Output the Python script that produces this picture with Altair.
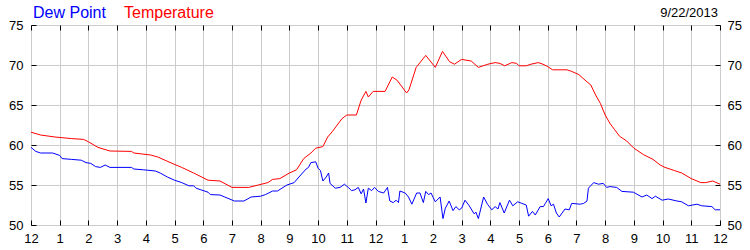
import altair as alt
import pandas as pd

# (minutes since midnight, degrees F)
TEMPERATURE = [
    (0, 61.6), (20, 61.25), (50, 61.0), (85, 60.8), (110, 60.7), (120, 60.4), (140, 59.7),
    (165, 59.25), (210, 59.2), (215, 59.0), (250, 58.75), (265, 58.5), (295, 57.7), (315, 57.2),
    (340, 56.5), (370, 55.6), (395, 55.5), (420, 54.7), (455, 54.7), (475, 55.0), (495, 55.3),
    (505, 55.7), (520, 55.8), (540, 56.5), (555, 56.9), (570, 58.3), (585, 59.0), (595, 59.6),
    (610, 59.8), (620, 61.0), (630, 61.7), (650, 63.3), (660, 63.75), (680, 63.75), (690, 65.6),
    (700, 66.7), (705, 66.0), (715, 66.7), (740, 66.7), (755, 68.5), (765, 68.1), (785, 66.5),
    (790, 66.9), (805, 69.7), (825, 71.2), (845, 69.7), (860, 71.7), (875, 70.4), (885, 70.1),
    (900, 70.7), (920, 70.5), (935, 69.7), (955, 70.1), (970, 70.3), (980, 70.2), (990, 69.9),
    (1005, 70.3), (1015, 70.2), (1020, 69.9), (1035, 69.9), (1045, 70.1), (1060, 70.3),
    (1070, 70.1), (1080, 69.8), (1090, 69.4), (1120, 69.4), (1130, 69.2), (1145, 68.8),
    (1160, 68.0), (1170, 67.5), (1180, 66.25), (1190, 65.2), (1200, 63.75), (1210, 62.7),
    (1220, 61.9), (1230, 61.1), (1245, 60.5), (1260, 59.6), (1280, 58.8), (1300, 58.2),
    (1315, 57.5), (1325, 57.2), (1345, 56.8), (1360, 56.5), (1380, 55.8), (1400, 55.3),
    (1410, 55.3), (1425, 55.5), (1440, 55.1),
]

DEW_POINT = [
    (0, 59.7), (10, 59.2), (20, 59.0), (45, 59.0), (60, 58.7), (65, 58.3), (85, 58.2),
    (105, 58.1), (115, 57.8), (125, 57.7), (135, 57.3), (145, 57.2), (155, 57.5), (165, 57.2),
    (210, 57.2), (215, 57.0), (235, 56.9), (260, 56.75), (270, 56.5), (285, 56.0), (300, 55.6),
    (315, 55.3), (330, 54.9), (340, 54.9), (345, 54.6), (355, 54.4), (370, 54.1), (375, 53.8),
    (395, 53.75), (405, 53.5), (425, 53.0), (445, 53.0), (460, 53.5), (480, 53.6), (490, 53.8),
    (505, 54.25), (515, 54.25), (535, 55.0), (550, 55.3), (560, 56.0), (575, 57.0), (580, 57.2),
    (585, 57.8), (595, 57.9), (600, 57.1), (605, 56.8), (610, 55.5), (617, 56.0), (622, 56.5),
    (625, 55.2), (636, 54.6), (646, 54.7), (655, 55.1), (663, 54.7), (670, 54.3), (677, 54.4),
    (684, 54.7), (690, 53.9), (695, 54.5), (700, 52.75), (705, 54.6), (712, 54.3), (718, 54.7),
    (726, 54.2), (737, 54.0), (745, 54.7), (750, 53.0), (757, 52.8), (763, 53.1), (768, 52.8),
    (771, 54.25), (782, 54.0), (789, 53.5), (796, 52.6), (806, 54.0), (813, 54.0), (820, 52.8),
    (825, 54.2), (831, 53.8), (836, 54.0), (845, 52.9), (855, 53.5), (861, 50.8), (866, 52.1),
    (874, 53.0), (882, 51.8), (888, 52.3), (895, 51.9), (900, 52.1), (907, 53.1), (916, 52.4),
    (926, 51.4), (930, 51.6), (935, 50.8), (946, 53.5), (954, 52.6), (963, 51.9), (970, 52.3),
    (976, 52.0), (980, 52.8), (989, 51.5), (1000, 53.1), (1007, 52.4), (1017, 52.9),
    (1026, 52.7), (1035, 52.5), (1040, 51.1), (1048, 51.7), (1054, 51.25), (1064, 52.3),
    (1071, 52.3), (1075, 52.7), (1081, 53.3), (1087, 52.4), (1092, 52.6), (1098, 51.5),
    (1104, 51.0), (1116, 52.0), (1125, 51.9), (1130, 52.7), (1148, 52.6), (1155, 52.7),
    (1162, 53.0), (1165, 54.6), (1176, 55.3), (1186, 55.1), (1196, 55.2), (1203, 54.7),
    (1210, 54.8), (1224, 54.7), (1235, 54.2), (1259, 54.1), (1277, 53.5), (1287, 53.75),
    (1298, 53.3), (1305, 53.6), (1319, 53.1), (1332, 53.25), (1350, 53.0), (1360, 52.9),
    (1374, 52.4), (1392, 52.6), (1402, 52.4), (1423, 52.3), (1430, 51.9), (1440, 51.9),
]

X_TICKS = list(range(0, 1441, 60))
Y_TICKS = [50, 55, 60, 65, 70, 75]
TITLE_DEW = "Dew Point"
TITLE_TEMP = "Temperature"
DATE_TEXT = "9/22/2013"

FONT = "Liberation Sans"

temp_df = pd.DataFrame(TEMPERATURE, columns=["minute", "value"])
dew_df = pd.DataFrame(DEW_POINT, columns=["minute", "value"])

xs = alt.Scale(domain=[0, 1440], nice=False, zero=False)
ys = alt.Scale(domain=[50, 75], nice=False, zero=False)

label_expr = "((datum.value / 60) % 12) == 0 ? '12' : '' + ((datum.value / 60) % 12)"

common = dict(
    domain=False, ticks=True, tickSize=5, tickColor="black", tickWidth=1, offset=-5,
    labelFont=FONT, labelFontSize=13, labelColor="black", title=None,
    gridColor="#cccccc", gridWidth=1, gridOpacity=1,
)

temp = alt.Chart(temp_df).mark_line(color="#ff0000", strokeWidth=1).encode(
    x=alt.X("minute:Q", scale=xs,
            axis=alt.Axis(orient="bottom", values=X_TICKS, labelExpr=label_expr,
                          grid=True, labelPadding=7, labelFlush=False, labelOverlap=False, **common)),
    y=alt.Y("value:Q", scale=ys,
            axis=alt.Axis(orient="left", values=Y_TICKS, grid=True, labelPadding=8,
                          labelFlush=False, labelOverlap=False, **common)),
)

dew = alt.Chart(dew_df).mark_line(color="#0000ff", strokeWidth=1).encode(
    x=alt.X("minute:Q", scale=xs,
            axis=alt.Axis(orient="top", values=X_TICKS, labels=False, grid=False, **common)),
    y=alt.Y("value:Q", scale=ys,
            axis=alt.Axis(orient="right", values=Y_TICKS, grid=False, labelPadding=7,
                          labelFlush=False, labelOverlap=False, **common)),
)

t_dew = alt.Chart(pd.DataFrame({"t": [TITLE_DEW]})).mark_text(
    align="left", baseline="alphabetic", font=FONT, fontSize=16, color="#0000ff"
).encode(x=alt.value(2), y=alt.value(-7), text="t:N")

t_temp = alt.Chart(pd.DataFrame({"t": [TITLE_TEMP]})).mark_text(
    align="left", baseline="alphabetic", font=FONT, fontSize=16, color="#ff0000"
).encode(x=alt.value(93), y=alt.value(-7), text="t:N")

t_date = alt.Chart(pd.DataFrame({"t": [DATE_TEXT]})).mark_text(
    align="right", baseline="alphabetic", font=FONT, fontSize=13, color="black"
).encode(x=alt.value(687), y=alt.value(-8), text="t:N")

chart = alt.layer(temp, dew, t_dew, t_temp, t_date).resolve_scale(
    x="independent", y="independent"
).properties(
    width=689, height=200,
    padding={"left": 31, "top": 25, "right": 30, "bottom": 25},
    autosize=alt.AutoSizeParams(type="none"),
    background="white",
).configure_view(stroke="black", strokeWidth=1)

chart.save("out.html", embed_options={"renderer": "svg", "actions": False})
